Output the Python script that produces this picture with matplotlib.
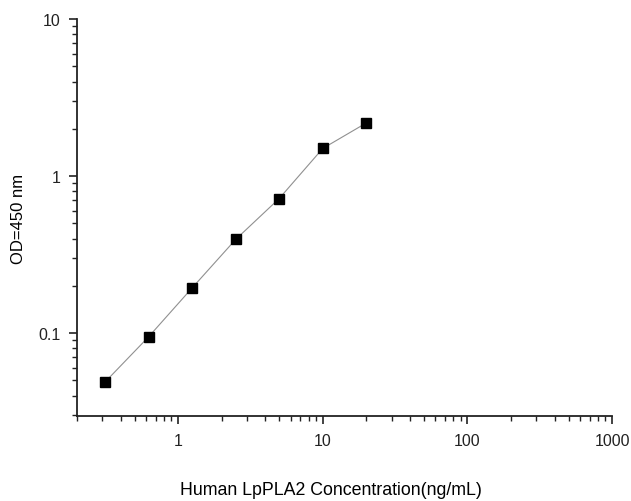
import matplotlib
matplotlib.use("Agg")
import matplotlib.pyplot as plt
from matplotlib.ticker import LogLocator, FixedLocator, FixedFormatter, NullFormatter

plt.rcParams['font.family'] = ['Liberation Sans', 'DejaVu Sans']

conc = [0.3125, 0.625, 1.25, 2.5, 5, 10, 20]
od = [0.0488, 0.0947, 0.194, 0.395, 0.72, 1.50, 2.18]
xticks = [1, 10, 100, 1000]
xticklabels = ["1", "10", "100", "1000"]
yticks = [0.1, 1, 10]
yticklabels = ["0.1", "1", "10"]

fig = plt.figure(figsize=(6.31, 5.02), dpi=100)
ax = fig.add_axes([0.122, 0.169, 0.848, 0.791])
ax.plot(conc, od, color='#909090', lw=0.8, marker='s', ms=6.5,
        markerfacecolor='black', markeredgecolor='black')
ax.set_xscale('log')
ax.set_yscale('log')
ax.set_xlim(0.2, 1000)
ax.set_ylim(0.0296, 10)
ax.xaxis.set_major_locator(FixedLocator(xticks))
ax.xaxis.set_major_formatter(FixedFormatter(xticklabels))
ax.yaxis.set_major_locator(FixedLocator(yticks))
ax.yaxis.set_major_formatter(FixedFormatter(yticklabels))
ax.xaxis.set_minor_locator(LogLocator(base=10, subs=range(2, 10)))
ax.yaxis.set_minor_locator(LogLocator(base=10, subs=range(2, 10)))
ax.xaxis.set_minor_formatter(NullFormatter())
ax.yaxis.set_minor_formatter(NullFormatter())
for s in ['top', 'right']:
    ax.spines[s].set_visible(False)
for s in ['left', 'bottom']:
    ax.spines[s].set_linewidth(1.3)
    ax.spines[s].set_color('#222222')
ax.tick_params(which='major', direction='out', length=6, width=1.2, labelsize=11.5, colors='#222222', pad=6)
ax.tick_params(which='minor', direction='out', length=3.5, width=1.0, colors='#222222')
ax.set_xlabel('Human LpPLA2 Concentration(ng/mL)', fontsize=12.8, va='center')
ax.xaxis.set_label_coords(0.475, -0.185)
ax.set_ylabel('OD=450 nm', fontsize=12, labelpad=9)
fig.savefig('out.png', dpi=100)
